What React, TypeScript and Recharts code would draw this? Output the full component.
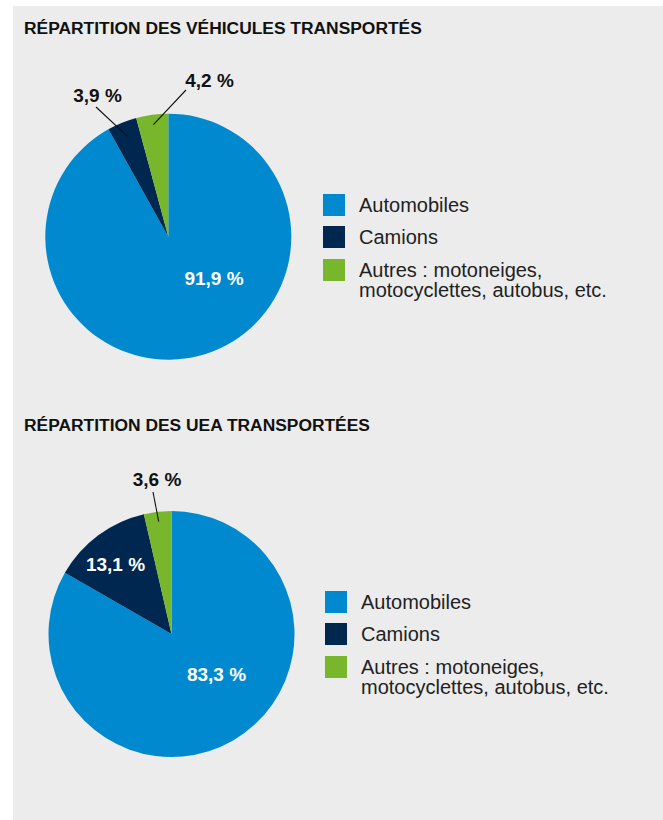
import React from 'react'
import { PieChart, Pie, Cell } from 'recharts'

// categories and shares (%)
const categories = ['Automobiles', 'Camions', 'Autres : motoneiges, motocyclettes, autobus, etc.']
const vehicleShares = [91.9, 3.9, 4.2]
const ueaShares = [83.3, 13.1, 3.6]
const colors = ['#0089cf', '#00274f', '#78b72b']

const vehicleTitle = 'RÉPARTITION DES VÉHICULES TRANSPORTÉS'
const ueaTitle = 'RÉPARTITION DES UEA TRANSPORTÉES'

const FONT = '"Liberation Sans", Arial, Helvetica, sans-serif'

// label placement relative to pie centre; line = [start radius fraction, end dx, end dy]
type LabelPos = { dx: number; dy: number; fill: string; line?: [number, number, number] }

const vehicleLabels: LabelPos[] = [
  { dx: 45.7, dy: 48.3, fill: '#fff' },
  { dx: -70.8, dy: -134.7, fill: '#111', line: [0.88, -72.3, -129.7] },
  { dx: 41.2, dy: -149.7, fill: '#111', line: [0.92, 17.7, -146.7] },
]
const ueaLabels: LabelPos[] = [
  { dx: 45, dy: 47, fill: '#fff' },
  { dx: -56, dy: -63, fill: '#fff' },
  { dx: -14.5, dy: -148, fill: '#111', line: [0.92, -18.5, -142] },
]

const RAD = Math.PI / 180
const fmt = (v: number) => v.toFixed(1).replace('.', ',') + ' %'

function makeLabel(layout: LabelPos[]) {
  return (props: any) => {
    const { cx, cy, midAngle, outerRadius, index, value } = props
    const l = layout[index]
    let line = null
    if (l.line) {
      const r = outerRadius * l.line[0]
      const x1 = cx + r * Math.cos(-midAngle * RAD)
      const y1 = cy + r * Math.sin(-midAngle * RAD)
      line = <line x1={x1} y1={y1} x2={cx + l.line[1]} y2={cy + l.line[2]} stroke="#111" strokeWidth={1.1} />
    }
    return (
      <g key={`lbl-${index}`}>
        {line}
        <text
          x={cx + l.dx}
          y={cy + l.dy}
          textAnchor="middle"
          fill={l.fill}
          fontFamily={FONT}
          fontWeight={700}
          fontSize={19}
        >
          {fmt(value)}
        </text>
      </g>
    )
  }
}

function Title({ text, top }: { text: string; top: number }) {
  return (
    <div
      style={{
        position: 'absolute',
        left: 24,
        top,
        fontFamily: FONT,
        fontWeight: 700,
        fontSize: 17.4,
        lineHeight: '17.4px',
        color: '#111',
        whiteSpace: 'nowrap',
      }}
    >
      {text}
    </div>
  )
}

function Legend({ left, tops }: { left: number; tops: number[] }) {
  return (
    <>
      {categories.map((c, i) => (
        <div key={c} style={{ position: 'absolute', left, top: tops[i], display: 'flex' }}>
          <div style={{ width: 22, height: 22, background: colors[i], flex: 'none' }} />
          <div
            style={{
              marginLeft: 14,
              marginTop: 1,
              width: 285,
              fontFamily: FONT,
              fontSize: 20,
              lineHeight: '20px',
              color: '#222',
            }}
          >
            {c}
          </div>
        </div>
      ))}
    </>
  )
}

export default function App() {
  const vehicleData = categories.map((name, i) => ({ name, value: vehicleShares[i] }))
  const ueaData = categories.map((name, i) => ({ name, value: ueaShares[i] }))

  return (
    <div style={{ position: 'fixed', left: 0, top: 0, width: 663, height: 820, background: '#fff', overflow: 'hidden' }}>
      <div style={{ position: 'absolute', left: 13, top: 6, width: 650, height: 814, background: '#ececec' }} />
      <div style={{ position: 'absolute', left: 0, top: 0 }}>
        <PieChart width={663} height={820} margin={{ top: 0, right: 0, bottom: 0, left: 0 }}>
          <Pie
            data={vehicleData}
            dataKey="value"
            nameKey="name"
            cx={168.3}
            cy={236.7}
            outerRadius={123}
            startAngle={90}
            endAngle={-270}
            stroke="none"
            labelLine={false}
            label={makeLabel(vehicleLabels)}
            isAnimationActive={false}
          >
            {vehicleData.map((d, i) => (
              <Cell key={d.name} fill={colors[i]} />
            ))}
          </Pie>
          <Pie
            data={ueaData}
            dataKey="value"
            nameKey="name"
            cx={171.5}
            cy={634}
            outerRadius={123}
            startAngle={90}
            endAngle={-270}
            stroke="none"
            labelLine={false}
            label={makeLabel(ueaLabels)}
            isAnimationActive={false}
          >
            {ueaData.map((d, i) => (
              <Cell key={d.name} fill={colors[i]} />
            ))}
          </Pie>
        </PieChart>
      </div>
      <Title text={vehicleTitle} top={20.3} />
      <Title text={ueaTitle} top={417.3} />
      <Legend left={323} tops={[194, 226, 259]} />
      <Legend left={325} tops={[591, 623, 656]} />
    </div>
  )
}
